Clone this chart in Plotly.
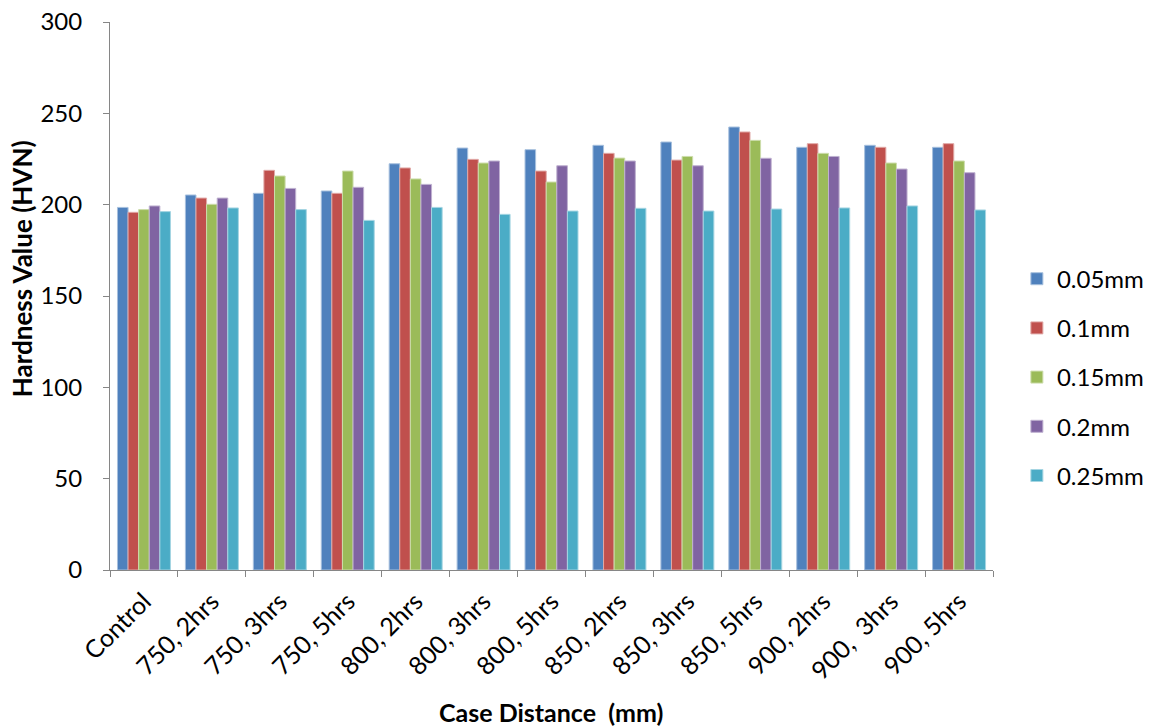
import plotly.graph_objects as go

categories = ["Control", "750, 2hrs", "750, 3hrs", "750, 5hrs", "800, 2hrs", "800, 3hrs",
              "800, 5hrs", "850, 2hrs", "850, 3hrs", "850, 5hrs", "900, 2hrs", "900,  3hrs",
              "900, 5hrs"]

hv_005 = [198.5, 205.3, 206.2, 207.5, 222.4, 231.0, 230.1, 232.5, 234.3, 242.5, 231.4, 232.5, 231.4]
hv_010 = [195.8, 203.6, 218.8, 206.2, 220.1, 224.8, 218.4, 228.1, 224.4, 239.8, 233.4, 231.4, 233.4]
hv_015 = [197.3, 200.2, 215.7, 218.4, 214.1, 222.8, 212.4, 225.5, 226.4, 235.2, 228.1, 222.8, 223.9]
hv_020 = [199.3, 203.6, 208.9, 209.5, 211.1, 223.9, 221.3, 223.9, 221.3, 225.4, 226.4, 219.5, 217.5]
hv_025 = [196.2, 198.2, 197.3, 191.4, 198.5, 194.7, 196.5, 198.0, 196.5, 197.6, 198.2, 199.3, 197.1]

series_names = ["0.05mm", "0.1mm", "0.15mm", "0.2mm", "0.25mm"]
series_values = [hv_005, hv_010, hv_015, hv_020, hv_025]
colors = ["#4F81BD", "#C0504D", "#9BBB59", "#8064A2", "#4BACC6"]
edge_colors = ["#A7C0DE", "#E0A8A6", "#CDDDAC", "#BFB1D0", "#A5D5E2"]

FONT = "Lato, 'Open Sans', sans-serif"

fig = go.Figure()
for name, vals, c, ec in zip(series_names, series_values, colors, edge_colors):
    fig.add_trace(go.Bar(
        x=categories, y=vals, name=name, legendgroup=name,
        marker=dict(color=c, line=dict(color=ec, width=1)),
    ))

fig.update_layout(
    width=1156, height=726,
    barmode="group", bargap=0.22, bargroupgap=0,
    plot_bgcolor="white", paper_bgcolor="white",
    margin=dict(l=110, r=0, t=22, b=156),
    font=dict(family=FONT, size=24, color="black"),
    legend=dict(x=0.867, y=0.352, xanchor="left", yanchor="middle",
                font=dict(size=24), tracegroupgap=15, itemwidth=30),
    showlegend=True,
    annotations=[
        dict(text="<b>Case Distance  (mm)</b>", xref="paper", yref="paper",
             x=0.4212, y=-0.259, xanchor="center", yanchor="middle",
             showarrow=False, font=dict(size=25)),
        dict(text="<b>Hardness Value (HVN)</b>", xref="paper", yref="paper",
             x=-0.0841, y=0.549, xanchor="center", yanchor="middle",
             textangle=-90, showarrow=False, font=dict(size=26)),
    ],
)
fig.update_xaxes(
    domain=[0, 0.8442], automargin=False,
    showline=True, linecolor="#868686", linewidth=1,
    ticks="outside", tickson="boundaries", ticklen=6, tickcolor="#868686",
    tickangle=-45, tickfont=dict(size=25), ticklabelstandoff=6,
)
fig.update_yaxes(
    range=[0, 300], dtick=50, showgrid=False, zeroline=False, automargin=False,
    showline=True, linecolor="#868686", linewidth=1,
    ticks="outside", ticklen=6, tickcolor="#868686",
    tickfont=dict(size=24), ticklabelstandoff=16,
)

fig.write_html("out.html")
